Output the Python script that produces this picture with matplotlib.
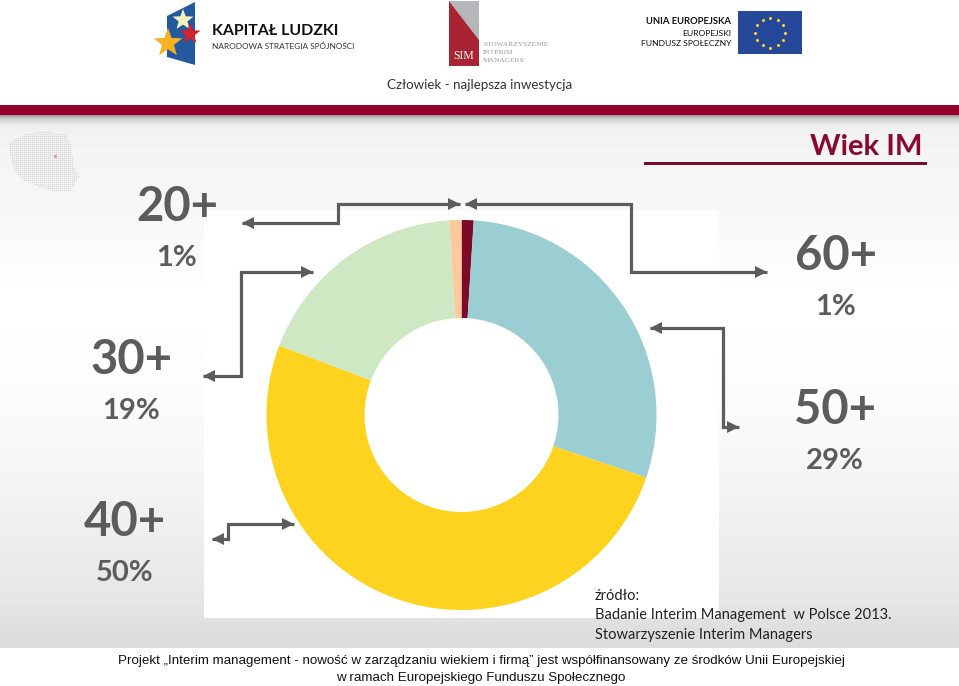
import numpy as np
import matplotlib
matplotlib.use("Agg")
import matplotlib.pyplot as plt
from matplotlib.patches import Polygon, Rectangle
from matplotlib.path import Path

# Data
age_groups = ["60+", "50+", "40+", "30+", "20+"]
labels_pct = [1, 29, 50, 19, 1]
slice_shares = [1.0, 29.2, 50.6, 18.2, 1.0]
colors = ["#7d0a26", "#9bced2", "#fed31f", "#cde8c2", "#fdc99b"]
title = "Wiek IM"
source_lines = ["źródło:", "Badanie Interim Management  w Polsce 2013.", "Stowarzyszenie Interim Managers"]
footer_lines = ["Projekt „Interim management - nowość w zarządzaniu wiekiem i firmą” jest współfinansowany ze środków Unii Europejskiej",
                "w ramach Europejskiego Funduszu Społecznego"]

W, H = 959, 686
GREY = "#5c5c5c"
plt.rcParams["font.family"] = ["Lato", "DejaVu Sans"]
fig = plt.figure(figsize=(W / 100, H / 100), dpi=100, facecolor="white")
bg = fig.add_axes([0, 0, 1, 1])
bg.set_xlim(0, W); bg.set_ylim(H, 0); bg.axis("off")

# background gradient
ys = np.array([115, 118, 125, 135, 200, 300, 400, 500, 600, 648], float)
vals = np.array([.62, .80, .93, .955, .965, 1.0, .985, .95, .90, .855])
grad = np.interp(np.arange(115, 648), ys, vals)[:, None]
bg.imshow(grad, extent=(0, W, 648, 115), cmap="gray", vmin=0, vmax=1, aspect="auto", zorder=0)
bg.set_xlim(0, W); bg.set_ylim(H, 0)
bg.add_patch(Rectangle((0, 105), W, 10, fc="#96002d", ec="none", zorder=1))
bg.add_patch(Rectangle((204, 210), 515, 408, fc="white", ec="none", zorder=1))

# Poland dotted map
outline = Path([(10, 142), (24, 134), (42, 131), (66, 134), (71, 145), (73, 165), (78, 176), (74, 184), (69, 192),
                (52, 190), (38, 186), (24, 180), (13, 170), (10, 155)])
gx, gy = np.meshgrid(np.arange(10, 80, 2.0), np.arange(130, 195, 2.0))
pts = np.c_[gx.ravel(), gy.ravel()]
pts = pts[outline.contains_points(pts)]
bg.scatter(pts[:, 0], pts[:, 1], s=1.2, color="#dadada", lw=0, zorder=2)
bg.scatter([55], [156], s=5, color="#c9a0a8", lw=0, zorder=2)

# Logos
bg.add_patch(Polygon([(167, 16), (195, 2), (195, 65), (167, 57)], fc="#24589f", ec="none", zorder=2))
def star(cx, cy, r, c):
    a = np.deg2rad(np.arange(0, 360, 36) - 90)
    rr = np.where(np.arange(10) % 2 == 0, r, r * .42)
    bg.add_patch(Polygon(np.c_[cx + rr * np.cos(a), cy + rr * np.sin(a)], fc=c, ec="none", zorder=3))
star(183, 20, 11, "#f6f2c0"); star(190, 34, 11, "#d5202e"); star(168, 43, 15, "#f6b220")
bg.text(212, 31, "KAPITAŁ LUDZKI", fontsize=11.4, color="#111111", va="center", zorder=3, fontweight="bold")
bg.text(212, 46, "NARODOWA STRATEGIA SPÓJNOŚCI", fontsize=5.95, color="#333333", va="center", zorder=3)
bg.add_patch(Polygon([(449, 1), (479, 1), (479, 40)], fc="#b5b6b9", ec="none", zorder=2))
bg.add_patch(Polygon([(449, 1), (479, 40), (479, 66), (449, 66)], fc="#a82432", ec="none", zorder=2))
bg.text(464, 56, "SIM", fontsize=8.5, color="white", ha="center", va="center", zorder=3, family="Liberation Serif")
for y, s in zip([41, 50, 58], ["STOWARZYSZENIE", "INTERIM", "MANAGERS"]):
    bg.text(483, y + 3, s, fontsize=5.3, color="#9a9a9a", va="center", zorder=3, family="Liberation Serif")
for y, s, w, fs in zip([21, 33, 44], ["UNIA EUROPEJSKA", "EUROPEJSKI", "FUNDUSZ SPOŁECZNY"],
                       ["bold", "normal", "normal"], [6.8, 6.1, 6.1]):
    bg.text(731, y, s, fontsize=fs, color="#111111", ha="right", va="center", fontweight=w, zorder=3)
bg.add_patch(Rectangle((738, 11), 64, 43, fc="#26489a", ec="none", zorder=2))
a = np.deg2rad(np.arange(0, 360, 30))
bg.scatter(770 + 15 * np.cos(a), 32.5 + 15 * np.sin(a), s=5, color="#f5d327", lw=0, zorder=3)
bg.text(480, 85, "Człowiek - najlepsza inwestycja", fontsize=9.6, color="#333333", ha="center", va="center", zorder=3)

# Title
bg.text(923, 147, title, fontsize=21, color="#8a0a2f", ha="right", va="center", fontweight="bold", zorder=3)
bg.add_patch(Rectangle((644, 161.5), 283, 3.5, fc="#7d0a26", ec="none", zorder=3))

# Pie
R = 195
cx, cy = 461.5, 415
ax = fig.add_axes([(cx - 200) / W, 1 - (cy + 200) / H, 400 / W, 400 / H])
ax.pie(slice_shares, colors=colors, startangle=90, counterclock=False, radius=R,
       center=(0, 0), frame=False, wedgeprops=dict(width=R - 97, lw=0))
ax.set_xlim(-200, 200); ax.set_ylim(-200, 200); ax.axis("off")

# Labels
label_pos = {"20+": (177, 258), "30+": (131, 411), "40+": (125, 573), "60+": (836, 307), "50+": (835, 461)}
for name, s in zip(age_groups, labels_pct):
    x, y = label_pos[name]
    bg.text(x, y - 51, name, fontsize=34, fontweight="bold", color=GREY, ha="center", va="center", zorder=4)
    bg.text(x, y, f"{s}%", fontsize=21, fontweight="bold", color=GREY, ha="center", va="center", zorder=4)

# Connectors
def connector(pts):
    pts = np.array(pts, float)
    bg.plot(pts[:, 0], pts[:, 1], color=GREY, lw=2.3, solid_joinstyle="miter", solid_capstyle="butt", zorder=4)
    for tip, prev in ((pts[0], pts[1]), (pts[-1], pts[-2])):
        d = (tip - prev) / np.linalg.norm(tip - prev)
        n = np.array([-d[1], d[0]])
        bg.add_patch(Polygon([tip, tip - 12 * d + 6 * n, tip - 12 * d - 6 * n], fc=GREY, ec="none", zorder=4))

connector([(242, 223), (338, 223), (338, 204), (460, 204)])
connector([(465, 204), (631, 204), (631, 272), (767, 272)])
connector([(313, 272), (241, 272), (241, 376), (203, 376)])
connector([(650, 328), (723, 328), (723, 427), (739, 427)])
connector([(294, 524), (228, 524), (228, 539), (212, 539)])

# Source
for y, s in zip([596, 615, 635], source_lines):
    bg.text(595, y, s, fontsize=10.55, color="#222222", va="center", zorder=4)

# Footer
for y, s in zip([661, 678], footer_lines):
    bg.text(481, y, s, fontsize=9.62, color="#111111", ha="center", va="center", family="Liberation Sans", zorder=4)

fig.savefig("out.png", dpi=100, facecolor="white")
